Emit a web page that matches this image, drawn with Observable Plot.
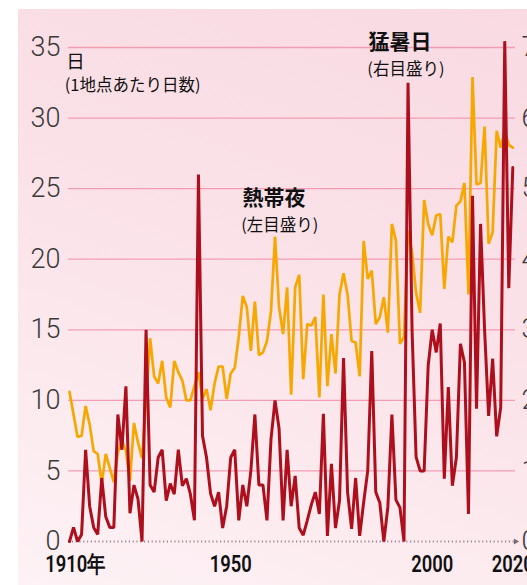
<!DOCTYPE html>
<html>
<head>
<meta charset="utf-8">
<script src="https://cdn.jsdelivr.net/npm/d3@7"></script>
<script src="https://cdn.jsdelivr.net/npm/@observablehq/plot@0.6"></script>
<style>
  html, body { margin: 0; padding: 0; background: #ffffff; }
  #wrap { position: relative; width: 527px; height: 585px; overflow: hidden; }
  #bg { position: absolute; left: 18px; top: 9px; right: 0; bottom: 0;
        background: linear-gradient(200deg, #f9dae2 0%, #fae2e8 45%, #fcecf0 80%, #fdf2f5 100%); }
  #chart { position: absolute; left: 0; top: 0; }
</style>
</head>
<body>
<div id="wrap"><div id="bg"></div><div id="chart"></div></div>
<script>
// 熱帯夜 (left scale, days per location), 1910–2020
const tropicalNights = [
  10.6, 9.0, 7.4, 7.5, 9.6, 8.3, 6.4, 6.2, 4.1, 6.2,
  5.2, 4.2, 6.3, 7.2, 6.4, 4.3, 8.4, 7.0, 5.9, 10.0,
  14.4, 11.7, 11.2, 12.8, 10.2, 9.5, 12.8, 12.0, 11.4, 10.0,
  10.0, 11.0, 12.0, 10.1, 10.8, 9.3, 11.2, 12.4, 12.4, 10.1,
  11.9, 12.3, 14.5, 17.4, 16.6, 13.5, 17.0, 13.2, 13.4, 14.2,
  16.3, 21.6, 16.6, 14.7, 18.0, 10.4, 18.0, 18.9, 11.5, 15.4,
  15.3, 15.9, 10.2, 17.5, 11.0, 14.7, 11.9, 17.5, 19.0, 17.5,
  14.2, 14.1, 11.7, 21.3, 18.6, 19.2, 15.4, 15.9, 17.3, 14.8,
  22.5, 21.3, 14.0, 14.5, 22.0, 20.5, 17.6, 16.2, 24.2, 22.5,
  21.7, 23.1, 23.2, 17.9, 21.6, 21.2, 23.8, 24.1, 25.4, 17.5,
  32.9, 25.3, 25.4, 29.4, 21.1, 21.9, 29.1, 27.9, 29.1, 28.1,
  27.9
];
// 猛暑日 (right scale, days per location), 1910–2020
const extremeHotDays = [
  0, 0.2, 0, 0.1, 1.3, 0.5, 0.2, 0.1, 0.9, 0.35,
  0.2, 0.2, 1.8, 1.3, 2.2, 0.4, 0.8, 0.6, 0, 3.0,
  0.8, 0.7, 1.19, 1.3, 0.58, 0.82, 0.67, 1.3, 0.79, 0.89,
  0.67, 0.3, 5.2, 1.5, 1.19, 0.68, 0.5, 0.7, 0.19, 0.5,
  1.19, 1.3, 0.3, 0.8, 0.5, 1.0, 1.8, 0.8, 0.8, 0.3,
  1.45, 2.0, 1.6, 0.3, 1.3, 0.5, 0.93, 0.19, 0.09, 0.3,
  0.52, 0.7, 0.39, 1.81, 0.08, 1.1, 0.19, 0.58, 2.6, 0.7,
  0.18, 0.9, 0.08, 0.56, 1.0, 2.7, 0.7, 0.55, 0, 0.49,
  1.8, 0.59, 0.48, 0, 6.5, 3.0, 1.2, 1.0, 1.0, 2.49,
  3.0, 2.68, 3.09, 0.89, 2.19, 0.79, 1.19, 2.8, 2.54, 0.39,
  4.9, 1.88, 4.5, 3.0, 1.78, 2.59, 1.49, 1.9, 7.09, 3.59,
  5.3
];
const startYear = 1910;
const leftTicks = [0, 5, 10, 15, 20, 25, 30, 35];
const rightTicks = [0, 1, 2, 3, 4, 5, 6, 7];
const xTicks = [1950, 2000, 2020];
const firstYearLabel = "1910年";

const rightToLeft = 5; // right-axis unit expressed on the left scale
const years = tropicalNights.map((_, i) => startYear + i);
const nights = years.map((year, i) => ({year, value: tropicalNights[i]}));
const hot = years.map((year, i) => ({year, value: extremeHotDays[i]}));

const numFont = "Roboto, 'Liberation Sans', sans-serif";
const jpFont = "'Noto Sans CJK JP', sans-serif";
const yearAxisStyle = {anchor: "bottom", tickSize: 0, tickPadding: 14, fontSize: 23,
  fontWeight: 600, fontFamily: numFont, fill: "#111"};

const chart = Plot.plot({
  width: 527,
  height: 585,
  marginLeft: 68,
  marginRight: 12,
  marginTop: 47,
  marginBottom: 44,
  x: {domain: [1910, 2020], range: [69, 512.3], label: null},
  y: {domain: [0, 35], label: null},
  style: {background: "transparent", overflow: "visible"},
  marks: [
    Plot.ruleY(leftTicks.filter(d => d > 0), {stroke: "#f39db4", strokeWidth: 1.3}),
    Plot.ruleY([0], {stroke: "#a48891", strokeDasharray: "1.2,2.6", strokeWidth: 2.2}),
    Plot.dot([0], {x: 2020.7, y: d => d, symbol: "triangle", rotate: 90, r: 2.2, fill: "#7d6a70", stroke: null}),
    Plot.axisY(leftTicks, {anchor: "left", tickSize: 0, tickPadding: 8, fontSize: 27,
      fontWeight: 300, fontFamily: numFont, fill: "#3a3a3a"}),
    Plot.axisY(rightTicks.map(d => d * rightToLeft), {anchor: "right", tickSize: 0, tickPadding: 6,
      fontSize: 27, fontWeight: 300, fontFamily: numFont, fill: "#3a3a3a",
      tickFormat: d => String(d / rightToLeft)}),
    Plot.axisX([startYear], {...yearAxisStyle, dx: 6, tickFormat: () => firstYearLabel}),
    Plot.axisX(xTicks, {...yearAxisStyle, tickFormat: d => String(d)}),
    Plot.line(nights, {x: "year", y: "value", stroke: "#f6a800", strokeWidth: 2.7, strokeLinejoin: "miter"}),
    Plot.line(hot, {x: "year", y: d => d.value * rightToLeft, stroke: "#ae0f1d", strokeWidth: 3, strokeLinejoin: "miter"}),
    Plot.text(["日"], {x: 1909.2, y: 33.95, text: d => d, textAnchor: "start", fontSize: 18.5,
      fontFamily: jpFont, fill: "#111"}),
    Plot.text(["(1地点あたり日数)"], {x: 1908.8, y: 32.3, text: d => d, textAnchor: "start",
      fontSize: 16.5, fontFamily: jpFont, fill: "#111"}),
    Plot.text(["猛暑日"], {x: 1984.2, y: 35.4, text: d => d, textAnchor: "start", fontSize: 21,
      fontWeight: "bold", fontFamily: jpFont, fill: "#111"}),
    Plot.text(["(右目盛り)"], {x: 1983.9, y: 33.45, text: d => d, textAnchor: "start", fontSize: 16.5,
      fontFamily: jpFont, fill: "#111"}),
    Plot.text(["熱帯夜"], {x: 1952.9, y: 24.3, text: d => d, textAnchor: "start", fontSize: 21,
      fontWeight: "bold", fontFamily: jpFont, fill: "#111"}),
    Plot.text(["(左目盛り)"], {x: 1952.6, y: 22.35, text: d => d, textAnchor: "start", fontSize: 16.5,
      fontFamily: jpFont, fill: "#111"})
  ]
});
document.getElementById("chart").appendChild(chart);

// condensed look for the year labels
d3.select(chart).selectAll('g[aria-label="x-axis tick label"] text').each(function() {
  const t = this.getAttribute("transform") || "";
  this.setAttribute("transform", t + " scale(0.8,1)");
});
</script>
</body>
</html>
